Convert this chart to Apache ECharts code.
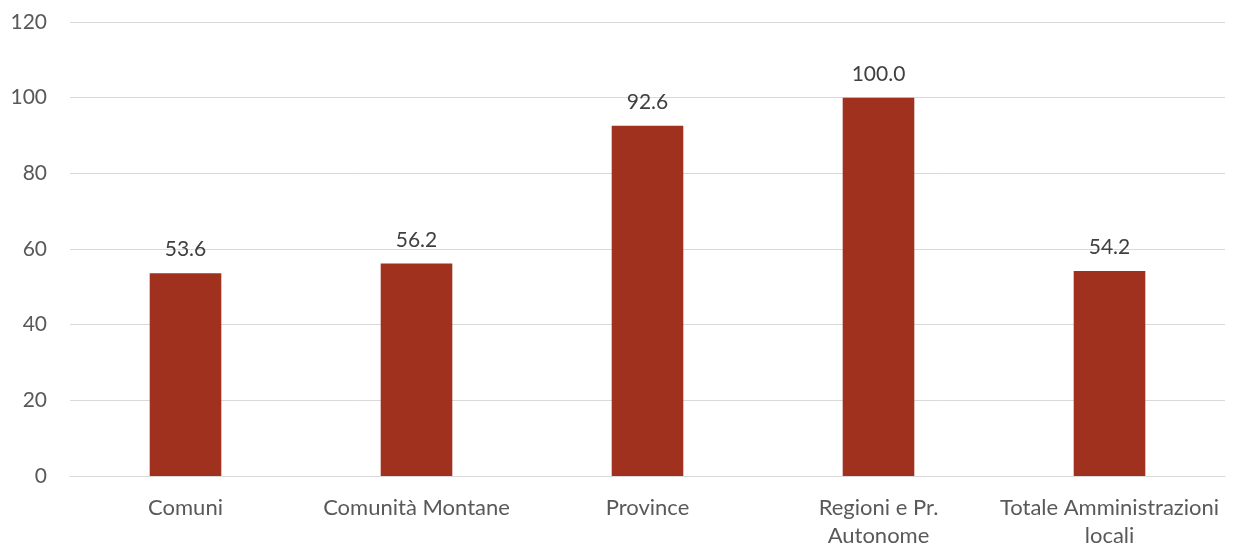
<!DOCTYPE html>
<html>
<head>
<meta charset="utf-8">
<script src="https://cdn.jsdelivr.net/npm/echarts@6/dist/echarts.min.js"></script>
<style>
  html, body { margin: 0; padding: 0; background: #fff; }
  #chart { width: 1233px; height: 550px; }
</style>
</head>
<body>
<div id="chart"></div>
<script>
// Share of administrations by type (percent)
const categories = ['Comuni', 'Comunità Montane', 'Province', 'Regioni e Pr.\nAutonome', 'Totale Amministrazioni\nlocali'];
const values = [53.6, 56.2, 92.6, 100.0, 54.2];
const yTicks = { min: 0, max: 120, interval: 20 };

const FONT = 'Lato, "Open Sans", sans-serif';
const SIZE = 21;

const chart = echarts.init(document.getElementById('chart'), null, { renderer: 'canvas' });
chart.setOption({
  animation: false,
  grid: { left: 70, right: 8, top: 22, bottom: 72, containLabel: false },
  xAxis: {
    type: 'category',
    data: categories,
    axisLine: { show: true, lineStyle: { color: '#d9d9d9', width: 1 } },
    axisTick: { show: false },
    axisLabel: {
      color: '#595959', fontFamily: FONT, fontSize: 22, margin: 18,
      lineHeight: 28, interval: 0
    }
  },
  yAxis: {
    type: 'value',
    min: yTicks.min, max: yTicks.max, interval: yTicks.interval,
    axisLine: { show: false },
    axisTick: { show: false },
    splitLine: { lineStyle: { color: '#d9d9d9', width: 1 } },
    axisLabel: { color: '#595959', fontFamily: FONT, fontSize: SIZE, margin: 23 }
  },
  series: [{
    type: 'bar',
    data: values,
    barWidth: '31%',
    itemStyle: { color: '#A0311F' },
    label: {
      show: true, position: 'top', distance: 13,
      color: '#404040', fontFamily: FONT, fontSize: SIZE,
      formatter: p => p.value.toFixed(1)
    }
  }]
});
</script>
</body>
</html>
